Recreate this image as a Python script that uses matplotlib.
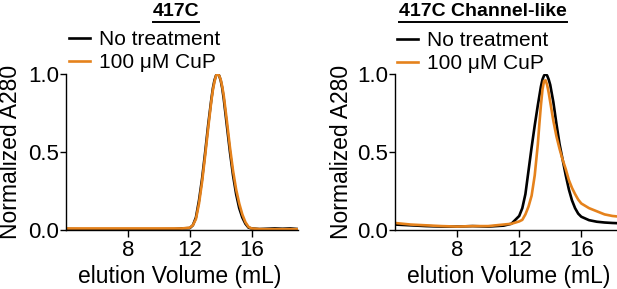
import matplotlib
matplotlib.use("Agg")
import matplotlib.pyplot as plt
from matplotlib.lines import Line2D

plt.rcParams['font.family'] = ['Liberation Sans', 'DejaVu Sans']

orange = '#E5821C'

# 417C
x_a = [4.0, 5, 6, 7, 8, 9, 10, 11, 11.5, 12.0, 12.2, 12.4, 12.6, 12.8, 13.0, 13.2, 13.4,
       13.5, 13.6, 13.7, 13.8, 13.9, 14.0, 14.1, 14.2, 14.4, 14.6, 14.8, 15.0, 15.2,
       15.4, 15.6, 15.8, 16.0, 16.5, 17, 17.5, 18, 18.5, 19]
black_a = [0.006, 0.005, 0.005, 0.005, 0.005, 0.005, 0.005, 0.006, 0.01, 0.012, 0.03, 0.08,
           0.19, 0.33, 0.50, 0.68, 0.84, 0.91, 0.96, 0.99, 1.0, 0.99, 0.96, 0.91, 0.84,
           0.67, 0.50, 0.35, 0.23, 0.14, 0.08, 0.04, 0.015, 0.01, 0.006, 0.008, 0.01,
           0.008, 0.01, 0.006]
cup_a = [0.01, 0.01, 0.01, 0.01, 0.01, 0.01, 0.01, 0.01, 0.01, 0.015, 0.03, 0.07, 0.17,
         0.31, 0.48, 0.66, 0.83, 0.90, 0.95, 0.99, 1.0, 0.99, 0.965, 0.92, 0.86, 0.70,
         0.53, 0.38, 0.26, 0.17, 0.10, 0.05, 0.02, 0.01, 0.006, 0.005, 0.005, 0.005,
         0.005, 0.005]

# 417C Channel-like
x_b = [4.0, 5, 6, 7, 8, 9, 10, 11, 11.5, 12.0, 12.2, 12.4, 12.6, 12.8, 13.0, 13.2, 13.3,
       13.4, 13.5, 13.6, 13.7, 13.8, 13.9, 14.0, 14.2, 14.4, 14.6, 14.8, 15.0, 15.2,
       15.4, 15.6, 15.8, 16.0, 16.5, 17, 17.5, 18, 18.5]
black_b = [0.035, 0.03, 0.025, 0.022, 0.022, 0.025, 0.022, 0.028, 0.04, 0.09, 0.14, 0.23,
           0.38, 0.53, 0.67, 0.80, 0.86, 0.92, 0.965, 0.99, 1.0, 0.99, 0.965, 0.93, 0.82,
           0.68, 0.55, 0.45, 0.35, 0.26, 0.19, 0.14, 0.105, 0.085, 0.063, 0.053, 0.048,
           0.045, 0.043]
cup_b = [0.045, 0.035, 0.03, 0.025, 0.022, 0.025, 0.025, 0.035, 0.04, 0.055, 0.065, 0.10,
         0.15, 0.22, 0.35, 0.55, 0.68, 0.80, 0.90, 0.955, 0.96, 0.93, 0.88, 0.82, 0.70,
         0.60, 0.52, 0.45, 0.39, 0.32, 0.27, 0.23, 0.195, 0.17, 0.14, 0.12, 0.10, 0.09,
         0.085]

W, H = 617, 289
fig = plt.figure(figsize=(W / 100, H / 100), dpi=100)

panels = [
    dict(rect=(66, 74, 298, 230), x=x_a, k=black_a, o=cup_a, xlim=(4, 19),
         title='417C', tx=176, yl=11, xl=180, leg=(69, 30)),
    dict(rect=(395, 74, 617, 230), x=x_b, k=black_b, o=cup_b, xlim=(4, 18.3),
         title='417C Channel-like', tx=483, yl=341, xl=509, leg=(397, 31)),
]

titles = []
for p in panels:
    l, t, r, b = p['rect']
    ax = fig.add_axes([l / W, 1 - b / H, (r - l) / W, (b - t) / H])
    ax.plot(p['x'], p['k'], color='black', lw=1.9, label='No treatment')
    ax.plot(p['x'], p['o'], color=orange, lw=1.9, label='100 \u03bcM CuP')
    ax.set_xlim(*p['xlim'])
    ax.set_ylim(0, 1.0)
    ax.set_xticks([8, 12, 16])
    ax.set_yticks([0.0, 0.5, 1.0])
    ax.set_yticklabels(['0.0', '0.5', '1.0'])
    for s in ['top', 'right']:
        ax.spines[s].set_visible(False)
    for s in ['left', 'bottom']:
        ax.spines[s].set_linewidth(1.0)
    ax.tick_params(axis='x', length=5, width=1.0, labelsize=16, pad=2)
    ax.tick_params(axis='y', length=4, width=1.0, labelsize=16, pad=1)
    for sp in ax.spines.values():
        sp.set_clip_on(False)

    fig.text(p['yl'] / W, 1 - 152 / H, 'Normalized A280', rotation=90,
             ha='center', va='center', fontsize=16.5)
    fig.text(p['xl'] / W, 1 - 276 / H, 'elution Volume (mL)',
             ha='center', va='center', fontsize=16.5)
    titles.append(fig.text(p['tx'] / W, 1 - 12 / H, p['title'], ha='center',
                           va='center', fontsize=14, fontweight='bold'))
    lx, ly = p['leg']
    ax.legend(loc='upper left', bbox_to_anchor=(lx / W, 1 - ly / H),
              bbox_transform=fig.transFigure, frameon=False, fontsize=15,
              handlelength=1.0, handletextpad=0.45, borderpad=0,
              borderaxespad=0, labelspacing=0.2)

# underline the panel titles
fig.canvas.draw()
for t in titles:
    bb = t.get_window_extent()
    y = (bb.y0 - 1.5) / H
    fig.add_artist(Line2D([bb.x0 / W, bb.x1 / W], [y, y], color='black',
                          lw=1.4, transform=fig.transFigure))

fig.savefig('out.png', dpi=100)
